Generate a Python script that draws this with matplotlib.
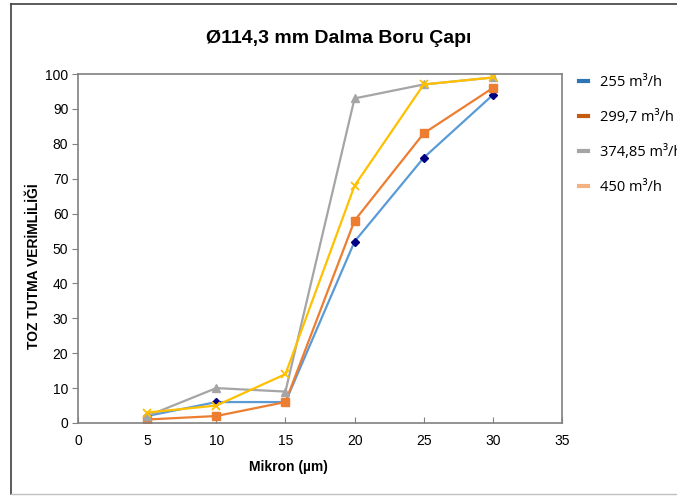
import numpy as np
import matplotlib.pyplot as plt
from matplotlib.lines import Line2D

plt.rcParams['font.family'] = ['Liberation Sans', 'DejaVu Sans']

mikron = [5, 10, 15, 20, 25, 30]
s255 = [2, 6, 6, 52, 76, 94]
s299 = [1, 2, 6, 58, 83, 96]
s374 = [2, 10, 9, 93, 97, 99]
s450 = [3, 5, 14, 68, 97, 99]
labels = ["255 m³/h", "299,7 m³/h", "374,85 m³/h", "450 m³/h"]

fig = plt.figure(figsize=(6.77, 4.96), dpi=100)
ax = fig.add_axes([78 / 677, 73 / 496, 484 / 677, 349 / 496])

ax.plot(mikron, s255, color='#5B9BD5', lw=1.6, marker='D', ms=4.5,
        mfc='#000080', mec='#000080')
ax.plot(mikron, s299, color='#ED7D31', lw=1.6, marker='s', ms=5.5,
        mfc='#ED7D31', mec='#ED7D31')
ax.plot(mikron, s374, color='#A5A5A5', lw=1.6, marker='^', ms=5.5,
        mfc='#A5A5A5', mec='#A5A5A5')
ax.plot(mikron, s450, color='#FFC000', lw=1.6, marker='x', ms=6,
        mew=1.3, mec='#FFC000')

ax.set_xlim(0, 35)
ax.set_ylim(0, 100)
ax.set_xticks(np.arange(0, 36, 5))
ax.set_yticks(np.arange(0, 101, 10))
for sp in ax.spines.values():
    sp.set_color('#808080')
    sp.set_linewidth(1.2)
ax.tick_params(axis='x', direction='in', length=4, color='#808080',
               labelsize=10, pad=8)
ax.tick_params(axis='y', direction='out', length=4, color='#808080',
               labelsize=10, pad=3)

ttl = ax.set_title("Ø114,3 mm Dalma Boru Çapı", fontsize=14,
                   fontweight='bold', pad=22)
ttl.set_x(0.539)
ax.set_xlabel("Mikron (µm)", fontsize=10, fontweight='bold', va='center')
ax.xaxis.set_label_coords(0.434, -0.126)
ax.set_ylabel("TOZ TUTMA VERİMLİLİĞİ", fontsize=10, fontweight='bold',
              va='center')
ax.yaxis.set_label_coords(-0.091, 0.45)

# legend with short dash handles
leg_colors = ['#2E75B6', '#C55A11', '#A5A5A5', '#F4B183']
handles = [Line2D([0], [0], color=c, lw=3) for c in leg_colors]
fig.legend(handles, labels, loc='upper left',
           bbox_to_anchor=(566 / 677, 1 - 62 / 496), frameon=False,
           handlelength=0.6, handletextpad=0.8, labelspacing=1.37,
           prop={'family': 'Open Sans', 'size': 10.5})

# chart frame
fig.add_artist(Line2D([11 / 677, 11 / 677], [2 / 496, 1 - 4 / 496],
                      color='#404040', lw=1.2))
fig.add_artist(Line2D([11 / 677, 1], [1 - 4 / 496, 1 - 4 / 496],
                      color='#404040', lw=1.2))
fig.add_artist(Line2D([11 / 677, 1], [2 / 496, 2 / 496],
                      color='#C0C0C0', lw=1))

fig.savefig("out.png", dpi=100)
